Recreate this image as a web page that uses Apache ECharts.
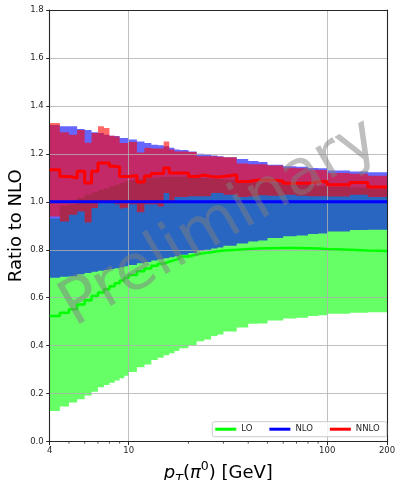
<!DOCTYPE html>
<html><head><meta charset="utf-8">
<script src="https://cdn.jsdelivr.net/npm/echarts@6/dist/echarts.min.js"></script>
<style>html,body{margin:0;padding:0;background:#fff}#c{width:396px;height:480px}</style>
</head><body><div id="c"></div>
<script>
// bin edges in pT [GeV]
const edges = [4,4.5,5,5.5,6,6.5,7,7.5,8,8.5,9,9.5,10,11,12,13,14,15,16,17,18,20,22,24,26,28,30,35,40,45,50,60,70,80,90,100,130,160,200];
// LO band + central
const loLow = [0.128,0.146,0.163,0.177,0.192,0.208,0.227,0.236,0.245,0.255,0.264,0.275,0.290,0.310,0.322,0.340,0.350,0.360,0.368,0.378,0.389,0.403,0.418,0.426,0.440,0.447,0.459,0.476,0.491,0.493,0.505,0.513,0.516,0.524,0.527,0.533,0.537,0.539];
const loHigh = [0.930,0.985,0.990,1.016,1.030,1.040,1.050,1.056,1.065,1.071,1.078,1.085,1.090,1.095,1.098,1.100,1.103,1.105,1.105,1.105,1.105,1.100,1.100,1.098,1.096,1.095,1.092,1.085,1.083,1.082,1.080,1.072,1.070,1.068,1.066,1.062,1.060,1.055];
const loCentral = [0.524,0.537,0.552,0.572,0.590,0.607,0.622,0.635,0.648,0.660,0.672,0.683,0.695,0.710,0.722,0.733,0.742,0.750,0.757,0.763,0.772,0.780,0.786,0.790,0.794,0.797,0.800,0.803,0.805,0.806,0.807,0.807,0.806,0.805,0.803,0.800,0.797,0.795];
// NLO band + central
const nloLow = [0.683,0.687,0.690,0.698,0.703,0.708,0.713,0.716,0.720,0.723,0.727,0.731,0.737,0.744,0.749,0.755,0.760,0.765,0.769,0.773,0.779,0.787,0.795,0.800,0.805,0.810,0.817,0.826,0.835,0.839,0.849,0.856,0.860,0.866,0.868,0.876,0.882,0.884];
const nloHigh = [1.320,1.315,1.315,1.304,1.300,1.290,1.287,1.280,1.276,1.274,1.266,1.266,1.260,1.252,1.245,1.238,1.236,1.232,1.225,1.218,1.216,1.210,1.200,1.198,1.193,1.190,1.186,1.179,1.170,1.166,1.155,1.148,1.146,1.141,1.140,1.131,1.126,1.123];
const nloCentral = [1.0,1.0];
// NNLO band + central
const nnloLow = [0.939,0.918,0.946,0.960,0.914,0.974,0.995,0.995,0.995,0.990,0.972,0.975,0.990,0.956,0.990,0.990,0.980,1.037,0.995,1.020,1.020,1.023,1.023,1.023,1.037,1.037,1.030,1.020,1.022,1.027,1.025,1.030,1.025,1.023,1.023,1.022,1.030,1.020];
const nnloHigh = [1.329,1.290,1.280,1.300,1.246,1.287,1.315,1.308,1.276,1.272,1.245,1.245,1.250,1.206,1.225,1.222,1.222,1.252,1.218,1.210,1.210,1.208,1.190,1.190,1.190,1.188,1.186,1.160,1.157,1.157,1.152,1.142,1.140,1.134,1.133,1.120,1.117,1.109];
const nnloCentral = [1.134,1.106,1.099,1.127,1.078,1.127,1.162,1.162,1.148,1.145,1.106,1.106,1.110,1.083,1.108,1.118,1.118,1.141,1.120,1.120,1.120,1.106,1.112,1.106,1.104,1.106,1.113,1.085,1.091,1.092,1.087,1.077,1.077,1.084,1.085,1.071,1.081,1.062];
// axis ticks
const xMajorTicks = [4,10,100,200];
const xMinorTicks = [5,6,7,8,9,20,30,40,50,60,70,80,90];
const yTicks = [0,0.2,0.4,0.6,0.8,1.0,1.2,1.4,1.6,1.8];

const FONT = 'DejaVu Sans';
const chart = echarts.init(document.getElementById('c'), null, {renderer:'canvas'});

function bandSeries(name, lo, hi, color) {
  return {
    type:'custom', name:name, coordinateSystem:'cartesian2d', z:1, silent:true,
    data:[[edges[0], lo[0]]],
    renderItem:function(params, api){
      const pts = [];
      for (let i=0;i<lo.length;i++){ pts.push(api.coord([edges[i],hi[i]])); pts.push(api.coord([edges[i+1],hi[i]])); }
      for (let i=lo.length-1;i>=0;i--){ pts.push(api.coord([edges[i+1],lo[i]])); pts.push(api.coord([edges[i],lo[i]])); }
      return {type:'polygon', shape:{points:pts}, style:{fill:color, stroke:null}};
    }
  };
}
function stepData(vals){
  const d = edges.slice(0, vals.length).map((e,i)=>[e, vals[i]]);
  d.push([edges[vals.length], vals[vals.length-1]]);
  return d;
}
function lineSeries(name, data, color, width){
  return {type:'line', name:name, data:data, step:'end', symbol:'none', z:3, silent:true,
    lineStyle:{color:color, width:width}, itemStyle:{color:color}};
}

const option = {
  animation:false,
  textStyle:{fontFamily:FONT},
  grid:{left:49.7, right:9, top:10, bottom:38.4, containLabel:false, outerBoundsMode:'none'},
  xAxis:[{
    type:'log', logBase:10, min:4, max:200, z:2,
    axisLine:{show:true, onZero:false, lineStyle:{color:'#262626', width:1.1}},
    axisTick:{show:true, length:3.5, lineStyle:{color:'#262626', width:1}},
    axisLabel:{show:true, margin:5, fontSize:8.5, color:'#262626', fontFamily:FONT},
    splitLine:{show:true, lineStyle:{color:'#b0b0b0', width:0.8}},
    name:'{i|p}{sub|T}{n|(}{i|π}{sup|0}{n|) [GeV]}', nameLocation:'middle', nameGap:13,
    nameTextStyle:{fontFamily:FONT, rich:{
      i:{fontSize:18, fontStyle:'italic', lineHeight:26, fontFamily:FONT, color:'#000'},
      n:{fontSize:18, lineHeight:26, fontFamily:FONT, color:'#000'},
      sub:{fontSize:12.5, fontStyle:'italic', lineHeight:14, verticalAlign:'bottom', fontFamily:FONT, color:'#000'},
      sup:{fontSize:12.5, lineHeight:15, verticalAlign:'top', fontFamily:FONT, color:'#000'}
    }}
  },{
    type:'log', logBase:10, min:4, max:200, position:'top', z:2,
    axisLine:{show:true, onZero:false, lineStyle:{color:'#262626', width:1.1}},
    axisTick:{show:false}, axisLabel:{show:false}, splitLine:{show:false}
  }],
  yAxis:[{
    type:'value', min:0, max:1.8, interval:0.2, z:2,
    axisLine:{show:true, onZero:false, lineStyle:{color:'#262626', width:1.1}},
    axisTick:{show:true, length:3.5, lineStyle:{color:'#262626', width:1}},
    axisLabel:{margin:6, fontSize:8.5, color:'#262626', fontFamily:FONT, formatter:v=>v.toFixed(1)},
    splitLine:{show:true, lineStyle:{color:'#b0b0b0', width:0.8}},
    name:'Ratio to NLO', nameLocation:'middle', nameGap:24, nameMoveOverlap:false,
    nameTextStyle:{fontSize:18, color:'#000', fontFamily:FONT}
  },{
    type:'value', min:0, max:1.8, position:'right', z:2,
    axisLine:{show:true, onZero:false, lineStyle:{color:'#262626', width:1.1}},
    axisTick:{show:false}, axisLabel:{show:false}, splitLine:{show:false}
  }],
  legend:{
    data:['LO','NLO','NNLO'], right:9.3, bottom:43.3, orient:'horizontal',
    icon:'rect', itemWidth:21, itemHeight:3, itemGap:17,
    padding:[3,7,3,3], backgroundColor:'rgba(255,255,255,0.8)',
    borderColor:'#cccccc', borderWidth:1, borderRadius:2,
    textStyle:{fontSize:8.5, color:'#262626', fontFamily:FONT}
  },
  graphic:[{
    type:'text', x:220, y:224, rotation:Math.PI/6, z:100, silent:true,
    style:{text:'Preliminary', fontSize:63, fontFamily:FONT, fill:'rgba(128,128,128,0.5)', align:'center', verticalAlign:'middle'}
  }],
  series:[
    bandSeries('LO band', loLow, loHigh, 'rgba(0,255,0,0.6)'),
    bandSeries('NLO band', nloLow, nloHigh, 'rgba(0,0,255,0.6)'),
    bandSeries('NNLO band', nnloLow, nnloHigh, 'rgba(255,0,0,0.6)'),
    lineSeries('LO', stepData(loCentral), '#00ff00', 2.5),
    lineSeries('NLO', [[edges[0], nloCentral[0]], [edges[edges.length-1], nloCentral[1]]], '#0000ff', 3),
    lineSeries('NNLO', stepData(nnloCentral), '#ff0000', 3),
    {
      type:'custom', name:'minor ticks', coordinateSystem:'cartesian2d', clip:false, z:3, silent:true,
      data:xMinorTicks.map(v=>[v,0]),
      renderItem:function(params, api){
        const p = api.coord([api.value(0), 0]);
        return {type:'line', shape:{x1:p[0], y1:p[1], x2:p[0], y2:p[1]+2}, style:{stroke:'#262626', lineWidth:0.8}};
      }
    }
  ]
};
chart.setOption(option);
</script></body></html>
